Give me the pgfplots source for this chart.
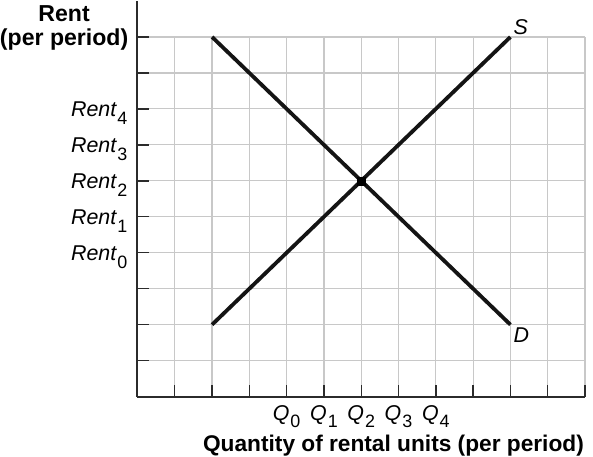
\documentclass[border=0pt]{standalone}
\usepackage{pgfplots}
\pgfplotsset{compat=1.18}
\usepackage{fontspec}
\setmainfont{Liberation Sans}
\definecolor{gridc}{HTML}{C8C8C8}
\definecolor{axc}{HTML}{2B2B2B}
\newcommand\sub[1]{\kern1bp\raisebox{-7.5bp}{\fontsize{18}{18}\selectfont\upshape #1}}
\newcommand\lbl[2]{{\fontsize{21.5}{22}\selectfont\itshape #1\sub{#2}}}
\begin{document}
\begin{tikzpicture}
\path (-137bp,-60bp) rectangle (456bp,395bp);
\begin{axis}[
  at={(0,0)}, anchor=origin,
  scale only axis, width=448bp, height=396bp,
  xmin=0, xmax=12, ymin=0, ymax=11,
  clip=false,
  axis lines=left,
  axis line style={-, line width=2bp, color=axc},
  axis on top,
  tick align=inside,
  major tick length=12bp,
  tick style={line width=1.4bp, color=axc},
  xtick={1,...,12}, ytick={1,...,10},
  xticklabels={,,,{\lbl{Q}{0}},{\lbl{Q}{1}},{\lbl{Q}{2}},{\lbl{Q}{3}},{\lbl{Q}{4}},,,,},
  yticklabels={,,,{\lbl{Rent}{0}},{\lbl{Rent}{1}},{\lbl{Rent}{2}},{\lbl{Rent}{3}},{\lbl{Rent}{4}},,},
  xticklabel style={anchor=base, yshift=-23.5bp, inner sep=0pt},
  yticklabel style={anchor=base east, xshift=-10bp, yshift=-8bp, inner sep=0pt},
  xlabel={Quantity of rental units (per period)},
  xlabel style={at={(axis description cs:1,0)}, anchor=base east, yshift=-55bp, xshift=-1bp,
    font=\bfseries\fontsize{22.8}{25}\selectfont, inner sep=0pt},
  ylabel={Rent\\(per period)},
  ylabel style={rotate=-90, at={(axis description cs:0,1)}, anchor=north east, align=center,
    xshift=-9bp, yshift=-4bp, font=\bfseries\fontsize{23.2}{25}\selectfont, inner sep=0pt},
]
\pgfplotsinvokeforeach{1,...,12}{\draw[gridc, line width=1.2bp] (axis cs:#1,0) -- (axis cs:#1,10);}
\pgfplotsinvokeforeach{1,...,10}{\draw[gridc, line width=1.2bp] (axis cs:0,#1) -- (axis cs:12,#1);}
\addplot[line width=3.8bp, color=black!92, mark=none] coordinates {(2,2) (10,10)};
\addplot[line width=3.8bp, color=black!92, mark=none] coordinates {(2,10) (10,2)};
\addplot[only marks, mark=square*, mark size=4bp, color=black] coordinates {(6,6)};
\node[anchor=base west, inner sep=0pt, font=\fontsize{21.5}{22}\selectfont\itshape] at (axis cs:10,10) [xshift=3bp, yshift=2bp] {S};
\node[anchor=base west, inner sep=0pt, font=\fontsize{21.5}{22}\selectfont\itshape] at (axis cs:10,2) [xshift=3bp, yshift=-17.5bp] {D};
\end{axis}
\end{tikzpicture}
\end{document}
